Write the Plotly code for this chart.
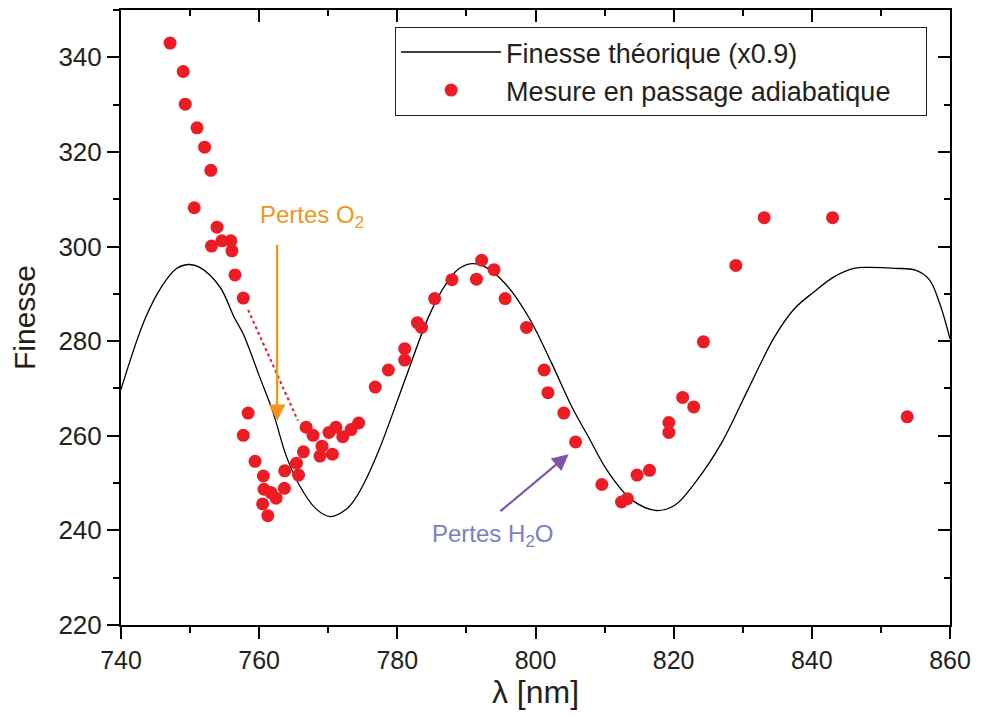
import plotly.graph_objects as go

# Theoretical finesse curve (x0.9)
theo_lambda = [740, 743.5, 746, 748, 749.7, 751.4, 754.3, 756.4, 757.7, 760.05, 762.0, 763.9,
               765.8, 768.2, 770.3, 772.55, 773.9, 775.4, 777.4, 780.2, 781.2, 784.6, 787.0, 788.9,
               790.8, 792.7, 795.6, 799.0, 802.35, 805.2, 807.65, 810.5, 813.9, 817.5, 820.15,
               823.0, 826.9, 830.7, 834.6, 837.5, 840.3, 843.2, 846.1, 848.0, 852.0, 855.0,
               857.0, 858.5, 860.0]
theo_finesse = [269.8, 284.8, 291.8, 295.3, 296.2, 295.6, 291.5, 285.0, 281.5, 272.5, 265.0, 255.8,
                249.6, 244.6, 242.9, 244.4, 246.7, 250.6, 257.2, 268.2, 272.2, 285.4, 292.0, 295.3,
                296.4, 295.7, 292.2, 285.1, 275.3, 266.3, 259.8, 252.4, 246.5, 244.2, 245.3,
                249.9, 258.4, 269.6, 280.9, 286.9, 290.4, 293.6, 295.4, 295.6, 295.4, 295.0,
                293.0, 288.0, 280.5]

# Measured finesse (adiabatic passage)
meas_lambda = [747.1, 749.0, 749.3, 750.6, 751.0, 752.1, 753.0, 753.1, 753.9, 754.6, 755.9, 756.05,
               756.5, 757.7, 757.7, 758.4, 759.4, 760.5, 760.6, 760.7, 761.25, 761.7, 762.45,
               763.65, 763.7, 765.4, 765.7, 766.4, 766.8, 767.8, 768.8, 769.1, 770.1, 770.6,
               771.1, 772.1, 773.3, 774.4, 776.8, 778.7, 781.06, 781.06, 782.9, 783.5, 785.4,
               787.9, 791.45, 792.2, 794.0, 795.6, 798.7, 801.25, 801.8, 804.1, 805.8, 809.6,
               812.45, 813.3, 814.7, 816.5, 819.3, 819.3, 821.3, 822.9, 824.3, 829.0, 833.1,
               843.0, 853.8]
meas_finesse = [343.0, 337.0, 330.1, 308.2, 325.1, 321.0, 316.1, 300.1, 304.1, 301.2, 301.2, 299.1,
                294.0, 289.1, 260.1, 264.8, 254.6, 245.6, 251.5, 248.7, 243.1, 248.0, 246.8,
                248.9, 252.6, 254.2, 251.7, 256.6, 261.8, 260.1, 255.7, 257.8, 260.7, 256.1,
                261.8, 259.8, 261.3, 262.7, 270.3, 273.9, 278.4, 276.0, 283.9, 282.9, 289.0,
                293.0, 293.1, 297.1, 295.1, 289.0, 282.9, 273.9, 269.1, 264.8, 258.7, 249.7,
                246.0, 246.7, 251.7, 252.7, 262.8, 260.7, 268.1, 266.1, 279.85, 296.0, 306.1,
                306.1, 264.0]

x_ticks = [740, 760, 780, 800, 820, 840, 860]
y_ticks = [220, 240, 260, 280, 300, 320, 340]

FONT = "Liberation Sans, Arial, Helvetica, sans-serif"
NBSP = "\u00a0"

fig = go.Figure()
fig.add_trace(go.Scatter(x=theo_lambda, y=theo_finesse, mode="lines",
                         line=dict(color="black", width=1.3, shape="spline", smoothing=1.0),
                         name="Finesse théorique (x0.9)"))
fig.add_trace(go.Scatter(x=meas_lambda, y=meas_finesse, mode="markers",
                         marker=dict(color="#ED1C24", size=13, line=dict(width=0)),
                         name="Mesure en passage adiabatique" + NBSP * 4))
# invisible trace for the mirrored top/right axes
fig.add_trace(go.Scatter(x=[], y=[], xaxis="x2", yaxis="y2", showlegend=False, hoverinfo="skip"))

axis_common = dict(showgrid=False, zeroline=False, showline=True, linecolor="black", linewidth=2,
                   tickwidth=2, ticklen=12, tickcolor="black")

fig.update_layout(
    width=981, height=718,
    margin=dict(l=121, r=25, t=10, b=93),
    paper_bgcolor="white", plot_bgcolor="white",
    font=dict(family=FONT, color="#231F20"),
    xaxis=dict(range=[740, 860], tickvals=x_ticks, ticks="outside",
               minor=dict(dtick=10, tick0=740, ticks="outside", ticklen=6, tickwidth=2, tickcolor="black"),
               tickfont=dict(size=25), title=dict(text="λ [nm]", font=dict(size=32), standoff=6),
               **axis_common),
    yaxis=dict(range=[220, 350], tickvals=y_ticks, ticks="outside",
               minor=dict(dtick=10, tick0=220, ticks="outside", ticklen=6, tickwidth=2, tickcolor="black"),
               tickfont=dict(size=26), title=dict(text="Finesse", font=dict(size=30), standoff=14),
               **axis_common),
    xaxis2=dict(range=[740, 860], overlaying="x", side="top", tickvals=x_ticks, ticks="inside",
                showticklabels=False,
                minor=dict(dtick=10, tick0=740, ticks="inside", ticklen=6, tickwidth=2, tickcolor="black"),
                **axis_common),
    yaxis2=dict(range=[220, 350], overlaying="y", side="right", tickvals=y_ticks, ticks="inside",
                showticklabels=False,
                minor=dict(dtick=10, tick0=220, ticks="inside", ticklen=6, tickwidth=2, tickcolor="black"),
                **axis_common),
    legend=dict(x=0.9724, y=0.9724, xanchor="right", yanchor="top", bgcolor="white",
                bordercolor="#231F20", borderwidth=1, font=dict(size=27, color="#231F20"),
                itemwidth=100, tracegroupgap=0),
    showlegend=True,
)

# red dotted guide
fig.add_shape(type="line", x0=758.4, y0=286.6, x1=765.6, y1=263.2, xref="x", yref="y",
              line=dict(color="#ED1C24", width=2, dash="dot"))

# O2 arrow and label
fig.add_annotation(x=762.6, y=263.1, ax=762.6, ay=300.7, xref="x", yref="y", axref="x", ayref="y",
                   text="", showarrow=True, arrowhead=2, arrowsize=1.5, arrowwidth=2.2,
                   arrowcolor="#F7941D", standoff=0, startstandoff=0)
fig.add_annotation(x=759.8, y=306.3, xref="x", yref="y", xanchor="left", yanchor="middle",
                   text="Pertes O<sub>2</sub>", showarrow=False,
                   font=dict(size=24, color="#F7941D", family=FONT))

# H2O arrow and label
fig.add_annotation(x=804.8, y=256.1, ax=794.7, ay=243.8, xref="x", yref="y", axref="x", ayref="y",
                   text="", showarrow=True, arrowhead=2, arrowsize=1.5, arrowwidth=2.2,
                   arrowcolor="#7E55A8", standoff=0, startstandoff=0)
fig.add_annotation(x=784.8, y=239.0, xref="x", yref="y", xanchor="left", yanchor="middle",
                   text="Pertes H<sub>2</sub>O", showarrow=False,
                   font=dict(size=24, color="#7B80C4", family=FONT))

fig.write_html("out.html", config={"displayModeBar": False},
               post_script="document.body.style.margin='0';document.body.style.overflow='hidden';")
